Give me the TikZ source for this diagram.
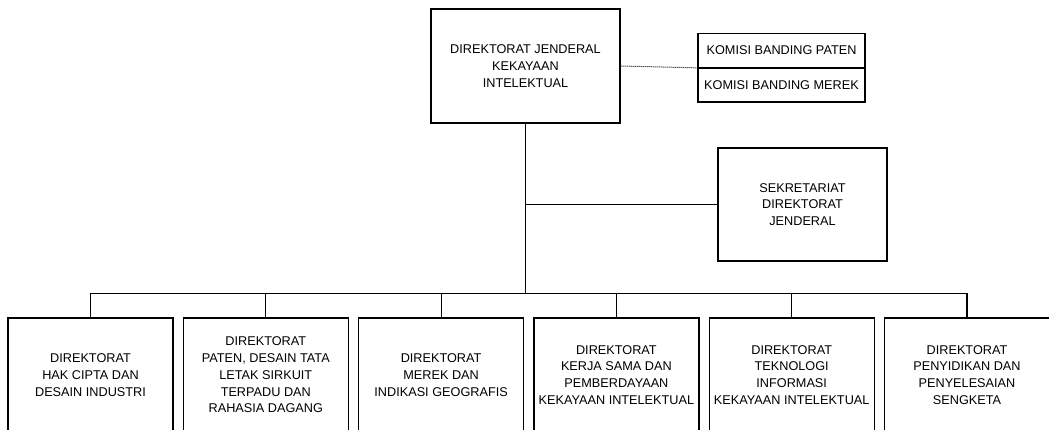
\documentclass[tikz,border=0pt]{standalone}
\usepackage{fontspec}
\setmainfont{Liberation Sans}
\usetikzlibrary{positioning,calc}

\begin{document}
\begin{tikzpicture}[x=1pt,y=-1pt,line width=1.2pt,
    font=\fontsize{12.7}{16.8}\selectfont,
    unit/.style={draw,align=center,inner sep=2pt},
    dit/.style={unit,minimum width=165pt,minimum height=114pt},
    komisi/.style={unit,minimum width=167pt,minimum height=33.5pt}]
  \useasboundingbox (0,0) rectangle (1049,429);
  \clip (0,0) rectangle (1049,429);
  % pimpinan
  \node [unit,minimum width=189pt,minimum height=114pt] (dirjen) at (525.5,66) {DIREKTORAT JENDERAL\\KEKAYAAN\\INTELEKTUAL};
  \node [komisi] (kpaten) at (781.5,50.5) {KOMISI BANDING PATEN};
  \node [komisi,below=0pt of kpaten] (kmerek) {KOMISI BANDING MEREK};
  \node [unit,minimum width=169pt,minimum height=113pt] (sekre) at (802.5,204.5) {SEKRETARIAT\\DIREKTORAT\\JENDERAL};
  % direktorat
  \node [dit] (dit1) at (90.5,375) {DIREKTORAT\\HAK CIPTA DAN\\DESAIN INDUSTRI};
  \node [dit] (dit2) at (265.8,375) {DIREKTORAT\\PATEN, DESAIN TATA\\LETAK SIRKUIT\\TERPADU DAN\\RAHASIA DAGANG};
  \node [dit] (dit3) at (441.1,375) {DIREKTORAT\\MEREK DAN\\INDIKASI GEOGRAFIS};
  \node [dit] (dit4) at (616.4,375) {DIREKTORAT\\KERJA SAMA DAN\\PEMBERDAYAAN\\KEKAYAAN INTELEKTUAL};
  \node [dit] (dit5) at (791.7,375) {DIREKTORAT\\TEKNOLOGI\\INFORMASI\\KEKAYAAN INTELEKTUAL};
  \node [dit] (dit6) at (967,375) {DIREKTORAT\\PENYIDIKAN DAN\\PENYELESAIAN\\SENGKETA};
  % garis
  \coordinate (bus) at ($(dirjen.south)+(0,170)$);
  \draw [densely dotted,line width=1pt] (dirjen.east) -- (kpaten.south west);
  \draw (dirjen.south) -- (bus);
  \draw (sekre.west) -- (sekre.west -| dirjen.south);
  \draw (dit1.north) |- (bus) -| (dit6.north);
  \draw (dit2.north) -- (dit2.north |- bus);
  \draw (dit3.north) -- (dit3.north |- bus);
  \draw (dit4.north) -- (dit4.north |- bus);
  \draw (dit5.north) -- (dit5.north |- bus);
\end{tikzpicture}
\end{document}
